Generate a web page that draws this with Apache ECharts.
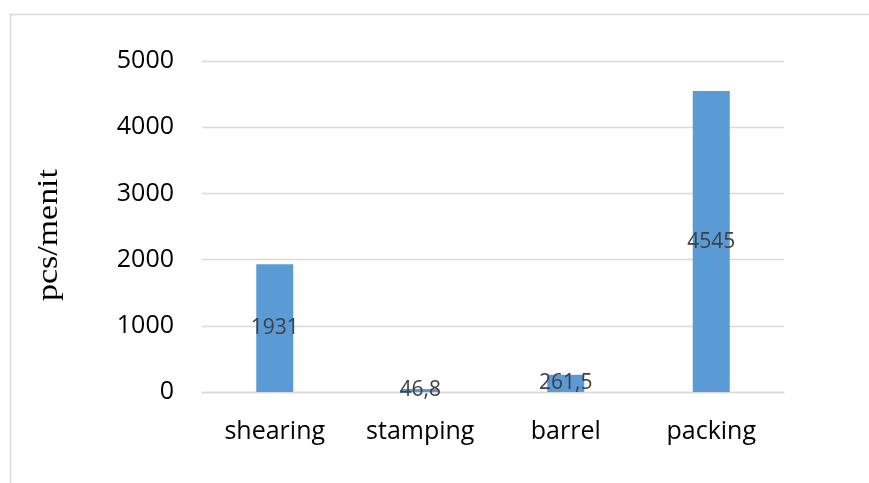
<!DOCTYPE html>
<html>
<head>
<meta charset="utf-8">
<style>
  html, body { margin: 0; padding: 0; background: #ffffff; }
  #chart { width: 869px; height: 483px; }
</style>
<script src="https://cdn.jsdelivr.net/npm/echarts@6/dist/echarts.min.js"></script>
</head>
<body>
<div id="chart"></div>
<script>
// Production rate per process step
const categories = ['shearing', 'stamping', 'barrel', 'packing'];
const rates = [1931, 46.8, 261.5, 4545];
const yTicks = [0, 1000, 2000, 3000, 4000, 5000];
const axisTitle = 'pcs/menit';

const chart = echarts.init(document.getElementById('chart'), null, { renderer: 'canvas' });

const sansFont = '"Open Sans", "Liberation Sans", sans-serif';

chart.setOption({
  animation: false,
  backgroundColor: '#ffffff',
  grid: { left: 202, right: 85, top: 61, bottom: 91, containLabel: false },
  graphic: [
    {
      // outer chart frame (runs off the right and bottom edges)
      type: 'rect',
      shape: { x: 10.5, y: 14.5, width: 900, height: 500 },
      style: { fill: 'none', stroke: '#d9d9d9', lineWidth: 1.4 },
      silent: true,
      z: -1
    },
    {
      // vertical axis title, widened along its reading direction
      type: 'text',
      x: 49.5,
      y: 235,
      rotation: Math.PI / 2,
      scaleX: 1.17,
      style: {
        text: axisTitle,
        fontSize: 29,
        fontFamily: '"Liberation Serif", "Times New Roman", serif',
        fill: '#000000',
        align: 'center',
        verticalAlign: 'middle'
      },
      silent: true
    }
  ],
  xAxis: {
    type: 'category',
    data: categories,
    axisLine: { show: true, lineStyle: { color: '#d9d9d9', width: 1.4 } },
    axisTick: { show: false },
    axisLabel: {
      color: '#000000',
      fontFamily: sansFont,
      fontSize: 25,
      margin: 27
    }
  },
  yAxis: {
    type: 'value',
    min: yTicks[0],
    max: yTicks[yTicks.length - 1],
    interval: yTicks[1] - yTicks[0],
    axisLine: { show: false },
    axisTick: { show: false },
    splitLine: { show: true, lineStyle: { color: '#d9d9d9', width: 1.4 } },
    axisLabel: {
      color: '#000000',
      fontFamily: sansFont,
      fontSize: 25,
      margin: 28,
      formatter: (v) => String(v)
    }
  },
  series: [
    {
      type: 'bar',
      data: rates,
      barWidth: 37,
      itemStyle: { color: '#5b9bd5' },
      label: {
        show: true,
        position: 'inside',
        color: '#404040',
        fontFamily: sansFont,
        fontSize: 21,
        formatter: (p) => String(p.value).replace('.', ',')
      }
    }
  ]
});
</script>
</body>
</html>
